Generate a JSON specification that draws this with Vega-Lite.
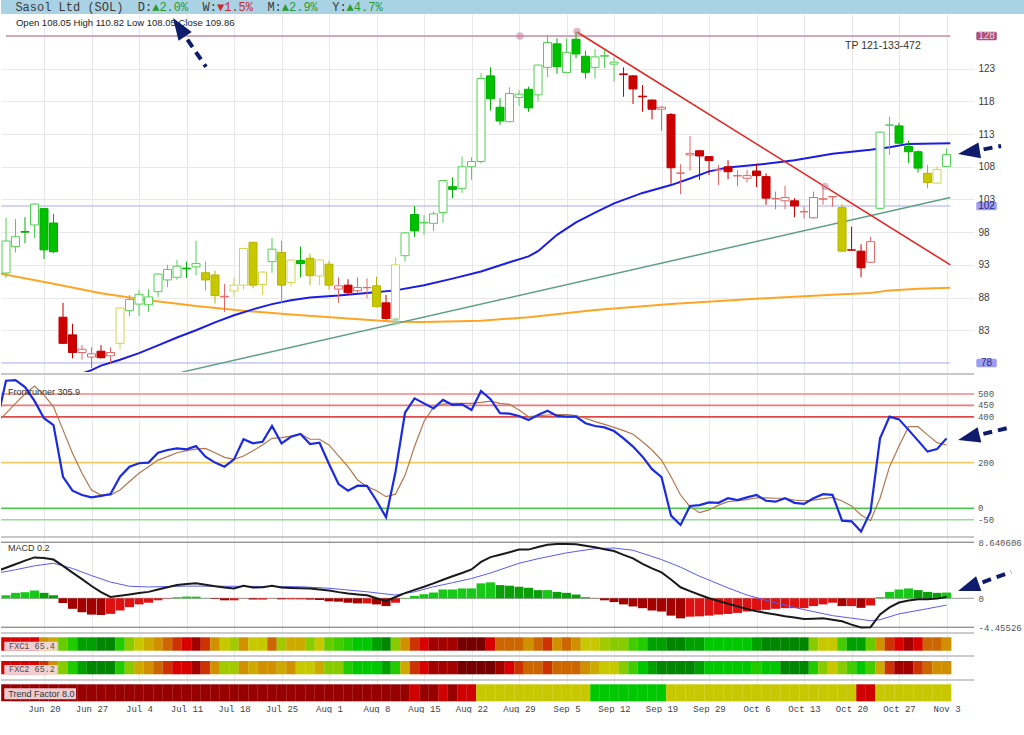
{
"$schema":"https://vega.github.io/schema/vega-lite/v6.json",
"padding":0,
"background":"white",
"spacing":0,
"bounds":"flush",
"resolve":{"scale":{"x":"independent","y":"independent","color":"independent","fill":"independent","stroke":"independent","strokeWidth":"independent"},"axis":{"x":"independent","y":"independent"}},
"config":{"view":{"stroke":null},"scale":{"continuousPadding":0},"axis":{"domain":false,"ticks":false,"labelFlush":false,"labelOverlap":false,"titleOpacity":0},"font":"Liberation Sans"},
"datasets":{
"d":[
{"i":0,"o":91.76,"h":100.2,"l":91.0,"c":96.65,"t":"g","m":0.47,"f1":86,"f2":86,"tf":0},
{"i":1,"o":95.8,"h":100.0,"l":94.9,"c":97.3,"t":"g","m":0.84,"f1":86,"f2":86,"tf":0},
{"i":2,"o":98.1,"h":100.3,"l":96.3,"c":98.0,"t":"g","m":0.94,"f1":86,"f2":86,"tf":0},
{"i":3,"o":99.1,"h":102.4,"l":97.1,"c":102.3,"t":"g","m":1.2,"f1":86,"f2":86,"tf":0},
{"i":4,"o":101.6,"h":101.7,"l":93.9,"c":95.3,"t":"g","m":0.84,"f1":65,"f2":79,"tf":0},
{"i":5,"o":99.4,"h":100.8,"l":94.8,"c":95.0,"t":"g","m":0.47,"f1":58,"f2":65,"tf":0},
{"i":6,"o":85.0,"h":87.2,"l":80.9,"c":81.0,"t":"r","m":-0.73,"f1":35,"f2":40,"tf":0},
{"i":7,"o":82.3,"h":84.0,"l":78.7,"c":79.6,"t":"r","m":-1.62,"f1":25,"f2":25,"tf":0},
{"i":8,"o":79.6,"h":80.75,"l":78.5,"c":80.1,"t":"r","m":-2.15,"f1":10,"f2":10,"tf":0},
{"i":9,"o":78.9,"h":80.4,"l":77.2,"c":79.4,"t":"r","m":-2.51,"f1":10,"f2":2,"tf":0},
{"i":10,"o":79.8,"h":80.75,"l":78.7,"c":78.8,"t":"r","m":-2.57,"f1":2,"f2":2,"tf":0},
{"i":11,"o":79.1,"h":80.4,"l":78.0,"c":79.6,"t":"r","m":-2.4,"f1":2,"f2":2,"tf":0},
{"i":12,"o":81.0,"h":86.5,"l":80.1,"c":86.4,"t":"y","m":-1.88,"f1":25,"f2":25,"tf":0},
{"i":13,"o":86.0,"h":88.4,"l":85.2,"c":87.7,"t":"g","m":-1.36,"f1":40,"f2":40,"tf":0},
{"i":14,"o":87.0,"h":89.2,"l":85.2,"c":88.5,"t":"g","m":-0.94,"f1":50,"f2":58,"tf":0},
{"i":15,"o":86.9,"h":89.3,"l":85.8,"c":88.1,"t":"g","m":-0.68,"f1":58,"f2":65,"tf":0},
{"i":16,"o":88.9,"h":91.7,"l":88.1,"c":91.6,"t":"g","m":-0.31,"f1":65,"f2":72,"tf":0},
{"i":17,"o":90.7,"h":93.0,"l":89.6,"c":92.3,"t":"g","m":-0.05,"f1":72,"f2":79,"tf":0},
{"i":18,"o":91.1,"h":93.75,"l":90.7,"c":92.8,"t":"g","m":0.16,"f1":79,"f2":86,"tf":0},
{"i":19,"o":92.5,"h":93.5,"l":91.0,"c":92.4,"t":"g","m":0.26,"f1":86,"f2":86,"tf":0},
{"i":20,"o":92.7,"h":96.7,"l":91.4,"c":93.2,"t":"g","m":0.26,"f1":93,"f2":93,"tf":0},
{"i":21,"o":91.8,"h":93.5,"l":89.1,"c":90.7,"t":"y","m":0.02,"f1":79,"f2":79,"tf":0},
{"i":22,"o":91.45,"h":92.1,"l":87.1,"c":88.3,"t":"y","m":-0.1,"f1":65,"f2":65,"tf":0},
{"i":23,"o":88.1,"h":90.1,"l":85.8,"c":88.2,"t":"r","m":-0.31,"f1":50,"f2":44,"tf":0},
{"i":24,"o":89.0,"h":91.0,"l":88.1,"c":89.9,"t":"y","m":-0.31,"f1":44,"f2":44,"tf":0},
{"i":25,"o":89.9,"h":95.6,"l":89.2,"c":95.5,"t":"y","m":-0.02,"f1":65,"f2":65,"tf":0},
{"i":26,"o":96.45,"h":96.5,"l":89.4,"c":89.9,"t":"y","m":-0.2,"f1":50,"f2":58,"tf":0},
{"i":27,"o":90.0,"h":92.0,"l":88.4,"c":91.9,"t":"y","m":-0.2,"f1":50,"f2":65,"tf":0},
{"i":28,"o":93.5,"h":97.1,"l":91.8,"c":95.4,"t":"g","m":-0.03,"f1":72,"f2":65,"tf":0},
{"i":29,"o":94.9,"h":96.7,"l":87.2,"c":89.9,"t":"y","m":-0.16,"f1":44,"f2":58,"tf":0},
{"i":30,"o":90.3,"h":93.8,"l":89.7,"c":93.75,"t":"y","m":-0.16,"f1":58,"f2":65,"tf":0},
{"i":31,"o":93.65,"h":95.8,"l":91.1,"c":93.2,"t":"g","m":-0.16,"f1":58,"f2":50,"tf":0},
{"i":32,"o":94.0,"h":94.7,"l":89.9,"c":91.35,"t":"y","m":-0.2,"f1":40,"f2":50,"tf":0},
{"i":33,"o":91.3,"h":93.8,"l":89.9,"c":93.75,"t":"y","m":-0.26,"f1":50,"f2":58,"tf":0},
{"i":34,"o":93.1,"h":93.65,"l":89.2,"c":89.9,"t":"y","m":-0.47,"f1":35,"f2":40,"tf":0},
{"i":35,"o":89.3,"h":91.1,"l":87.2,"c":89.8,"t":"r","m":-0.52,"f1":30,"f2":40,"tf":0},
{"i":36,"o":89.9,"h":90.8,"l":88.4,"c":88.75,"t":"r","m":-0.68,"f1":25,"f2":25,"tf":0},
{"i":37,"o":89.05,"h":91.1,"l":88.65,"c":89.55,"t":"r","m":-0.79,"f1":20,"f2":20,"tf":0},
{"i":38,"o":89.5,"h":90.95,"l":87.9,"c":89.55,"t":"r","m":-0.79,"f1":20,"f2":20,"tf":0},
{"i":39,"o":89.8,"h":91.2,"l":86.5,"c":86.6,"t":"y","m":-0.94,"f1":10,"f2":20,"tf":0},
{"i":40,"o":87.2,"h":88.4,"l":84.6,"c":84.8,"t":"r","m":-1.2,"f1":2,"f2":10,"tf":0},
{"i":41,"o":84.7,"h":94.2,"l":84.2,"c":93.0,"t":"y","m":-0.68,"f1":40,"f2":25,"tf":0},
{"i":42,"o":94.4,"h":98.0,"l":93.5,"c":97.9,"t":"g","m":0.05,"f1":65,"f2":58,"tf":0},
{"i":43,"o":100.7,"h":102.0,"l":97.3,"c":98.2,"t":"g","m":0.37,"f1":79,"f2":79,"tf":3},
{"i":44,"o":99.4,"h":100.6,"l":97.6,"c":99.5,"t":"g","m":0.63,"f1":86,"f2":86,"tf":0},
{"i":45,"o":99.35,"h":101.15,"l":98.2,"c":100.8,"t":"g","m":0.89,"f1":93,"f2":93,"tf":0},
{"i":46,"o":101.0,"h":106.0,"l":99.45,"c":105.9,"t":"g","m":1.36,"f1":93,"f2":93,"tf":3},
{"i":47,"o":104.95,"h":106.4,"l":103.2,"c":104.55,"t":"g","m":1.36,"f1":93,"f2":93,"tf":0},
{"i":48,"o":104.7,"h":109.55,"l":104.0,"c":108.0,"t":"g","m":1.52,"f1":100,"f2":100,"tf":3},
{"i":49,"o":108.0,"h":109.45,"l":106.0,"c":108.8,"t":"g","m":1.52,"f1":100,"f2":100,"tf":3},
{"i":50,"o":108.8,"h":122.3,"l":108.5,"c":121.5,"t":"g","m":2.3,"f1":100,"f2":100,"tf":8},
{"i":51,"o":121.9,"h":123.2,"l":116.6,"c":118.4,"t":"g","m":2.46,"f1":86,"f2":100,"tf":8},
{"i":52,"o":117.1,"h":118.5,"l":114.4,"c":115.0,"t":"g","m":2.04,"f1":72,"f2":93,"tf":8},
{"i":53,"o":114.9,"h":120.15,"l":114.8,"c":119.2,"t":"g","m":1.94,"f1":72,"f2":86,"tf":8},
{"i":54,"o":118.6,"h":119.7,"l":117.3,"c":119.1,"t":"g","m":1.78,"f1":72,"f2":79,"tf":8},
{"i":55,"o":119.85,"h":120.25,"l":116.4,"c":117.0,"t":"g","m":1.62,"f1":65,"f2":72,"tf":8},
{"i":56,"o":119.0,"h":123.6,"l":118.0,"c":123.55,"t":"g","m":1.26,"f1":72,"f2":72,"tf":8},
{"i":57,"o":123.2,"h":128.15,"l":121.7,"c":127.0,"t":"g","m":1.26,"f1":79,"f2":79,"tf":8},
{"i":58,"o":126.8,"h":127.65,"l":122.2,"c":123.3,"t":"g","m":0.99,"f1":65,"f2":72,"tf":8},
{"i":59,"o":122.4,"h":127.65,"l":122.3,"c":125.5,"t":"g","m":0.84,"f1":72,"f2":72,"tf":8},
{"i":60,"o":127.5,"h":128.6,"l":124.6,"c":125.25,"t":"g","m":0.58,"f1":65,"f2":72,"tf":8},
{"i":61,"o":124.9,"h":125.75,"l":121.5,"c":122.45,"t":"g","m":0.16,"f1":50,"f2":65,"tf":8},
{"i":62,"o":123.2,"h":126.0,"l":121.5,"c":124.8,"t":"g","m":-0.03,"f1":50,"f2":58,"tf":10},
{"i":63,"o":124.9,"h":125.9,"l":123.1,"c":125.0,"t":"g","m":-0.31,"f1":44,"f2":50,"tf":10},
{"i":64,"o":123.7,"h":124.75,"l":121.0,"c":124.0,"t":"g","m":-0.58,"f1":40,"f2":50,"tf":10},
{"i":65,"o":122.2,"h":123.2,"l":118.7,"c":122.1,"t":"r","m":-0.94,"f1":40,"f2":40,"tf":10},
{"i":66,"o":121.9,"h":122.0,"l":117.6,"c":119.9,"t":"r","m":-1.26,"f1":30,"f2":30,"tf":10},
{"i":67,"o":118.8,"h":120.5,"l":116.4,"c":118.7,"t":"r","m":-1.52,"f1":25,"f2":20,"tf":10},
{"i":68,"o":118.2,"h":118.3,"l":115.25,"c":116.8,"t":"r","m":-1.88,"f1":10,"f2":10,"tf":10},
{"i":69,"o":116.8,"h":117.3,"l":113.5,"c":117.1,"t":"r","m":-2.04,"f1":10,"f2":2,"tf":10},
{"i":70,"o":116.0,"h":116.2,"l":105.4,"c":107.85,"t":"r","m":-2.67,"f1":2,"f2":2,"tf":8},
{"i":71,"o":107.0,"h":108.4,"l":103.8,"c":107.05,"t":"r","m":-3.09,"f1":2,"f2":2,"tf":8},
{"i":72,"o":109.8,"h":112.7,"l":107.4,"c":110.05,"t":"r","m":-2.83,"f1":10,"f2":2,"tf":8},
{"i":73,"o":110.45,"h":110.5,"l":106.0,"c":109.65,"t":"r","m":-2.78,"f1":10,"f2":10,"tf":8},
{"i":74,"o":109.55,"h":109.6,"l":106.75,"c":108.95,"t":"r","m":-2.67,"f1":20,"f2":20,"tf":8},
{"i":75,"o":107.5,"h":108.3,"l":105.2,"c":107.6,"t":"r","m":-2.51,"f1":20,"f2":20,"tf":8},
{"i":76,"o":108.0,"h":109.0,"l":106.1,"c":107.25,"t":"r","m":-2.41,"f1":20,"f2":20,"tf":8},
{"i":77,"o":106.6,"h":107.5,"l":105.0,"c":106.65,"t":"r","m":-2.25,"f1":20,"f2":20,"tf":8},
{"i":78,"o":106.25,"h":107.5,"l":105.6,"c":106.65,"t":"r","m":-2.04,"f1":20,"f2":20,"tf":8},
{"i":79,"o":107.35,"h":108.5,"l":104.9,"c":106.65,"t":"r","m":-1.88,"f1":10,"f2":25,"tf":8},
{"i":80,"o":106.5,"h":107.0,"l":102.2,"c":103.2,"t":"r","m":-1.78,"f1":2,"f2":20,"tf":8},
{"i":81,"o":103.1,"h":104.2,"l":101.5,"c":103.15,"t":"r","m":-1.62,"f1":2,"f2":20,"tf":8},
{"i":82,"o":102.8,"h":105.1,"l":101.5,"c":103.3,"t":"r","m":-1.52,"f1":2,"f2":2,"tf":8},
{"i":83,"o":102.8,"h":103.2,"l":100.3,"c":102.0,"t":"r","m":-1.52,"f1":2,"f2":2,"tf":8},
{"i":84,"o":101.1,"h":101.9,"l":100.1,"c":101.15,"t":"r","m":-1.52,"f1":2,"f2":2,"tf":8},
{"i":85,"o":100.2,"h":104.2,"l":100.1,"c":103.3,"t":"r","m":-1.2,"f1":40,"f2":25,"tf":8},
{"i":86,"o":103.05,"h":105.2,"l":102.2,"c":103.1,"t":"r","m":-0.94,"f1":50,"f2":40,"tf":8},
{"i":87,"o":103.4,"h":103.5,"l":101.9,"c":103.45,"t":"r","m":-0.68,"f1":50,"f2":50,"tf":8},
{"i":88,"o":101.75,"h":102.3,"l":95.0,"c":95.1,"t":"y","m":-1.2,"f1":30,"f2":40,"tf":8},
{"i":89,"o":95.3,"h":98.85,"l":95.2,"c":95.25,"t":"r","m":-1.2,"f1":10,"f2":30,"tf":8},
{"i":90,"o":95.1,"h":96.15,"l":91.1,"c":92.55,"t":"r","m":-1.47,"f1":10,"f2":20,"tf":3},
{"i":91,"o":93.4,"h":97.3,"l":93.3,"c":96.55,"t":"r","m":-1.1,"f1":35,"f2":30,"tf":3},
{"i":92,"o":101.65,"h":113.4,"l":101.4,"c":113.3,"t":"g","m":0.16,"f1":65,"f2":58,"tf":8},
{"i":93,"o":114.35,"h":115.65,"l":109.8,"c":114.4,"t":"g","m":0.99,"f1":79,"f2":79,"tf":8},
{"i":94,"o":114.25,"h":114.75,"l":111.5,"c":111.6,"t":"g","m":1.36,"f1":86,"f2":93,"tf":8},
{"i":95,"o":111.1,"h":112.0,"l":108.6,"c":110.3,"t":"g","m":1.52,"f1":93,"f2":93,"tf":8},
{"i":96,"o":110.3,"h":110.5,"l":107.1,"c":107.8,"t":"g","m":1.26,"f1":86,"f2":79,"tf":8},
{"i":97,"o":107.0,"h":108.3,"l":104.7,"c":105.6,"t":"y","m":0.99,"f1":72,"f2":72,"tf":8},
{"i":98,"o":105.5,"h":108.1,"l":105.4,"c":107.6,"t":"y","m":0.84,"f1":72,"f2":65,"tf":8},
{"i":99,"o":108.05,"h":110.82,"l":108.05,"c":109.86,"t":"g","m":0.89,"f1":65.4,"f2":65.2,"tf":8}
],
"fr":[
{"i":-1,"a":371,"b":375},{"i":0,"a":558,"b":415},{"i":1,"a":561,"b":459},{"i":2,"a":530,"b":500},{"i":3,"a":470,"b":535},{"i":4,"a":394,"b":496},{"i":5,"a":364,"b":444},{"i":6,"a":138,"b":343},{"i":7,"a":77,"b":241},{"i":8,"a":58,"b":153},{"i":9,"a":48,"b":80},{"i":10,"a":54,"b":58},{"i":11,"a":62,"b":58},{"i":12,"a":138,"b":80},{"i":13,"a":182,"b":117},{"i":14,"a":197,"b":153},{"i":15,"a":200,"b":182},{"i":16,"a":243,"b":211},{"i":17,"a":255,"b":226},{"i":18,"a":262,"b":243},{"i":19,"a":258,"b":252},{"i":20,"a":272,"b":259},{"i":21,"a":226,"b":262},{"i":22,"a":200,"b":243},{"i":23,"a":182,"b":223},{"i":24,"a":214,"b":214},{"i":25,"a":302,"b":229},{"i":26,"a":284,"b":252},{"i":27,"a":291,"b":277},{"i":28,"a":360,"b":306},{"i":29,"a":284,"b":309},{"i":30,"a":313,"b":316},{"i":31,"a":325,"b":325},{"i":32,"a":281,"b":302},{"i":33,"a":287,"b":302},{"i":34,"a":194,"b":277},{"i":35,"a":106,"b":229},{"i":36,"a":77,"b":182},{"i":37,"a":99,"b":124},{"i":38,"a":98,"b":95},{"i":39,"a":33,"b":77},{"i":40,"a":-39,"b":51},{"i":41,"a":160,"b":62},{"i":42,"a":418,"b":144},{"i":43,"a":481,"b":270},{"i":44,"a":459,"b":380},{"i":45,"a":437,"b":442},{"i":46,"a":474,"b":456},{"i":47,"a":452,"b":459},{"i":48,"a":455,"b":459},{"i":49,"a":430,"b":459},{"i":50,"a":513,"b":463},{"i":51,"a":477,"b":469},{"i":52,"a":416,"b":459},{"i":53,"a":414,"b":455},{"i":54,"a":404,"b":430},{"i":55,"a":386,"b":401},{"i":56,"a":408,"b":404},{"i":57,"a":427,"b":408},{"i":58,"a":404,"b":410},{"i":59,"a":401,"b":410},{"i":60,"a":401,"b":405},{"i":61,"a":372,"b":394},{"i":62,"a":360,"b":379},{"i":63,"a":354,"b":367},{"i":64,"a":338,"b":354},{"i":65,"a":306,"b":340},{"i":66,"a":270,"b":324},{"i":67,"a":226,"b":291},{"i":68,"a":171,"b":255},{"i":69,"a":136,"b":211},{"i":70,"a":-32,"b":138},{"i":71,"a":-73,"b":58},{"i":72,"a":10,"b":7},{"i":73,"a":14,"b":-19},{"i":74,"a":26,"b":-7},{"i":75,"a":24,"b":14},{"i":76,"a":44,"b":29},{"i":77,"a":36,"b":33},{"i":78,"a":48,"b":38},{"i":79,"a":58,"b":46},{"i":80,"a":33,"b":46},{"i":81,"a":29,"b":44},{"i":82,"a":44,"b":44},{"i":83,"a":24,"b":36},{"i":84,"a":19,"b":33},{"i":85,"a":44,"b":36},{"i":86,"a":62,"b":42},{"i":87,"a":59,"b":48},{"i":88,"a":-54,"b":32},{"i":89,"a":-57,"b":10},{"i":90,"a":-102,"b":-29},{"i":91,"a":-15,"b":-54},{"i":92,"a":306,"b":44},{"i":93,"a":401,"b":182},{"i":94,"a":389,"b":272},{"i":95,"a":343,"b":357},{"i":96,"a":296,"b":357},{"i":97,"a":248,"b":321},{"i":98,"a":259,"b":287},{"i":99,"a":305.9,"b":277}
],
"mk":[
{"i":-1,"v":4.15},{"i":0,"v":4.7},{"i":1,"v":5.25},{"i":2,"v":5.8},{"i":3,"v":6.3},{"i":4,"v":6.2},{"i":5,"v":5.97},{"i":6,"v":5.0},{"i":7,"v":3.95},{"i":8,"v":2.95},{"i":9,"v":1.9},{"i":10,"v":0.95},{"i":11,"v":0.2},{"i":12,"v":0.4},{"i":13,"v":0.6},{"i":14,"v":0.8},{"i":15,"v":0.99},{"i":16,"v":1.35},{"i":17,"v":1.7},{"i":18,"v":2.04},{"i":19,"v":2.2},{"i":20,"v":2.3},{"i":21,"v":2.1},{"i":22,"v":1.85},{"i":23,"v":1.65},{"i":24,"v":1.5},{"i":25,"v":1.94},{"i":26,"v":1.65},{"i":27,"v":1.7},{"i":28,"v":1.94},{"i":29,"v":1.65},{"i":30,"v":1.6},{"i":31,"v":1.55},{"i":32,"v":1.52},{"i":33,"v":1.35},{"i":34,"v":1.2},{"i":35,"v":0.95},{"i":36,"v":0.75},{"i":37,"v":0.6},{"i":38,"v":0.47},{"i":39,"v":0.0},{"i":40,"v":-0.45},{"i":41,"v":0.2},{"i":42,"v":0.8},{"i":43,"v":1.3},{"i":44,"v":1.78},{"i":45,"v":2.3},{"i":46,"v":2.85},{"i":47,"v":3.4},{"i":48,"v":3.9},{"i":49,"v":4.45},{"i":50,"v":5.6},{"i":51,"v":6.35},{"i":52,"v":6.72},{"i":53,"v":7.1},{"i":54,"v":7.5},{"i":55,"v":7.5},{"i":56,"v":7.9},{"i":57,"v":8.25},{"i":58,"v":8.35},{"i":59,"v":8.35},{"i":60,"v":8.33},{"i":61,"v":8.1},{"i":62,"v":7.85},{"i":63,"v":7.55},{"i":64,"v":7.28},{"i":65,"v":6.7},{"i":66,"v":6.15},{"i":67,"v":5.3},{"i":68,"v":4.6},{"i":69,"v":4.0},{"i":70,"v":2.9},{"i":71,"v":1.7},{"i":72,"v":1.1},{"i":73,"v":0.55},{"i":74,"v":0.0},{"i":75,"v":-0.42},{"i":76,"v":-0.84},{"i":77,"v":-1.25},{"i":78,"v":-1.65},{"i":79,"v":-2.0},{"i":80,"v":-2.25},{"i":81,"v":-2.5},{"i":82,"v":-2.75},{"i":83,"v":-2.95},{"i":84,"v":-3.19},{"i":85,"v":-3.15},{"i":86,"v":-3.08},{"i":87,"v":-3.3},{"i":88,"v":-3.55},{"i":89,"v":-4.05},{"i":90,"v":-4.5},{"i":91,"v":-4.45},{"i":92,"v":-2.5},{"i":93,"v":-1.4},{"i":94,"v":-0.65},{"i":95,"v":-0.35},{"i":96,"v":-0.16},{"i":97,"v":-0.16},{"i":98,"v":-0.05},{"i":99,"v":0.2}
],
"ms":[
{"i":-1,"v":3.85},{"i":1,"v":4.4},{"i":3,"v":5.0},{"i":5,"v":5.4},{"i":7,"v":4.6},{"i":9,"v":3.5},{"i":11,"v":2.5},{"i":13,"v":1.85},{"i":15,"v":1.75},{"i":19,"v":1.88},{"i":24,"v":1.85},{"i":31,"v":1.78},{"i":34,"v":1.55},{"i":38,"v":1.0},{"i":41,"v":0.5},{"i":43,"v":1.0},{"i":45,"v":1.78},{"i":47,"v":2.4},{"i":49,"v":3.05},{"i":51,"v":3.9},{"i":52,"v":4.4},{"i":54,"v":5.4},{"i":56,"v":6.1},{"i":59,"v":7.0},{"i":62,"v":7.65},{"i":64,"v":7.75},{"i":66,"v":7.4},{"i":69,"v":5.97},{"i":71,"v":4.8},{"i":73,"v":3.4},{"i":76,"v":1.6},{"i":78,"v":0.5},{"i":81,"v":-0.7},{"i":84,"v":-1.75},{"i":87,"v":-2.67},{"i":90,"v":-3.25},{"i":91,"v":-3.46},{"i":92,"v":-3.3},{"i":94,"v":-2.4},{"i":97,"v":-1.6},{"i":99,"v":-1.05}
],
"ma1":[
{"i":7,"v":75.9},{"i":9,"v":76.9},{"i":10,"v":77.6},{"i":12,"v":78.5},{"i":14,"v":79.5},{"i":16,"v":80.7},{"i":18,"v":81.9},{"i":20,"v":83.0},{"i":22,"v":84.2},{"i":24,"v":85.3},{"i":26,"v":86.2},{"i":28,"v":87.0},{"i":30,"v":87.6},{"i":32,"v":88.0},{"i":35,"v":88.3},{"i":38,"v":88.7},{"i":41,"v":89.1},{"i":44,"v":89.9},{"i":47,"v":90.9},{"i":50,"v":92.0},{"i":53,"v":93.4},{"i":55,"v":94.3},{"i":56,"v":95.1},{"i":58,"v":97.6},{"i":60,"v":99.5},{"i":62,"v":101.0},{"i":64,"v":102.4},{"i":67,"v":104.0},{"i":70,"v":105.2},{"i":72,"v":106.2},{"i":74,"v":107.3},{"i":76,"v":107.9},{"i":79,"v":108.3},{"i":83,"v":109.0},{"i":87,"v":110.0},{"i":91,"v":110.6},{"i":93,"v":111.0},{"i":95,"v":111.5},{"i":99.4,"v":111.6}
],
"ma2":[
{"i":-0.53,"v":91.65},{"i":5,"v":90.1},{"i":10,"v":88.65},{"i":15,"v":87.6},{"i":20,"v":86.7},{"i":25,"v":86.0},{"i":30,"v":85.4},{"i":36,"v":84.8},{"i":41,"v":84.3},{"i":44,"v":84.25},{"i":50,"v":84.45},{"i":55,"v":85.0},{"i":62,"v":86.1},{"i":70,"v":87.0},{"i":80,"v":87.9},{"i":88,"v":88.5},{"i":91,"v":88.7},{"i":93,"v":89.1},{"i":96,"v":89.35},{"i":99.4,"v":89.5}
]
},
"vconcat":[
{
"width":1024,"height":14,
"view":{"fill":"#a9d3e5","stroke":null},
"data":{"values":[
{"col":2,"t":"Sasol Ltd (SOL)","k":"label"},
{"col":19,"t":"D:","k":"label"},
{"col":21,"t":"▲2.0%","k":"up"},
{"col":28,"t":"W:","k":"label"},
{"col":30,"t":"▼1.5%","k":"down"},
{"col":37,"t":"M:","k":"label"},
{"col":39,"t":"▲2.9%","k":"up"},
{"col":46,"t":"Y:","k":"label"},
{"col":48,"t":"▲4.7%","k":"up"}
]},
"mark":{"type":"text","align":"left","baseline":"middle","font":"Liberation Mono","fontSize":12},
"encoding":{
"x":{"field":"col","type":"quantitative","scale":{"domain":[0,142.22],"nice":false,"zero":false},"axis":null},
"y":{"datum":0.5,"scale":{"domain":[0,1]},"axis":null},
"text":{"field":"t"},
"color":{"field":"k","type":"nominal","scale":{"domain":["label","up","down"],"range":["#3b3b3b","#2d9a2d","#c82828"]},"legend":null}
}
},
{
"width":973,"height":358,
"layer":[
{"data":{"values":[{"p":128}]},"mark":{"type":"rule","color":"#c48ca2","strokeWidth":1.5},
 "encoding":{"x":{"datum":0,"title":null},"x2":{"datum":99.4},"y":{"field":"p","type":"quantitative","title":null}}},
{"data":{"values":[{"p":102},{"p":78}]},"mark":{"type":"rule","color":"#a9a9f2","strokeWidth":1},
 "encoding":{"x":{"datum":-0.5,"title":null},"x2":{"datum":99.4},"y":{"field":"p","type":"quantitative","title":null}}},
{"data":{"name":"ma2"},"mark":{"type":"line","color":"#ffa526","strokeWidth":2,"clip":true},
 "encoding":{"x":{"field":"i","type":"quantitative","title":null},"y":{"field":"v","type":"quantitative","title":null}}},
{"data":{"name":"ma1"},"mark":{"type":"line","color":"#1c1ce6","strokeWidth":2,"clip":true},
 "encoding":{"x":{"field":"i","type":"quantitative","title":null},"y":{"field":"v","type":"quantitative","title":null}}},
{"data":{"values":[{"i":18.5,"v":76.6},{"i":99.4,"v":103.3}]},"mark":{"type":"line","color":"#5f9f84","strokeWidth":1.5,"clip":true},
 "encoding":{"x":{"field":"i","type":"quantitative","title":null},"y":{"field":"v","type":"quantitative","title":null}}},
{"data":{"values":[{"i":60.1,"v":128.6},{"i":99.4,"v":93.0}]},"mark":{"type":"line","color":"#e32626","strokeWidth":1.6,"clip":true},
 "encoding":{"x":{"field":"i","type":"quantitative","title":null},"y":{"field":"v","type":"quantitative","title":null}}},
{"data":{"name":"d"},
 "transform":[{"calculate":"datum.t + (datum.c > datum.o ? 'u' : 'd')","as":"k"}],
 "mark":{"type":"rule","strokeWidth":1},
 "encoding":{
  "x":{"field":"i","type":"quantitative","title":null,"scale":{"domain":[-0.5263,101.89],"nice":false,"zero":false,"padding":0},
       "axis":{"values":[4,9,14,19,24,29,34,39,44,49,54,59,64,69,74,79,84,89,94,99],"labels":false,"grid":true,"gridColor":"#e8e8e8","title":null}},
  "y":{"field":"l","type":"quantitative","title":null,"scale":{"domain":[76.62,131.36],"nice":false,"zero":false,"padding":0},
       "axis":{"orient":"right","values":[83,88,93,98,103,108,113,118,123],"grid":true,"gridColor":"#e8e8e8","labelFont":"Liberation Sans","labelFontSize":10,"labelColor":"#3a3a3a","labelPadding":4,"labelOverlap":false,"title":null}},
  "y2":{"field":"h"},
  "stroke":{"field":"k","type":"nominal","scale":{"domain":["gu","gd","ru","rd","yu","yd"],"range":["#55cf55","#00b000","#e06868","#c40000","#d4d450","#b4b400"]},"legend":null}
 }},
{"data":{"name":"d"},
 "transform":[{"calculate":"datum.t + (datum.c > datum.o ? 'u' : 'd')","as":"k"}],
 "mark":{"type":"bar","size":8,"strokeWidth":1},
 "encoding":{
  "x":{"field":"i","type":"quantitative","title":null},
  "y":{"field":"o","type":"quantitative","title":null},
  "y2":{"field":"c"},
  "fill":{"field":"k","type":"nominal","scale":{"domain":["gu","gd","ru","rd","yu","yd"],"range":["#ffffff","#00c000","#ffffff","#cc0000","#ffffff","#c8c800"]},"legend":null},
  "stroke":{"field":"k","type":"nominal","legend":null}
 }},
{"data":{"values":[{"i":54.1,"p":128},{"i":60.1,"p":128.7},{"i":86.2,"p":105.0}]},
 "mark":{"type":"point","filled":true,"color":"#c77d95","opacity":0.55,"size":55},
 "encoding":{"x":{"field":"i","type":"quantitative","title":null},"y":{"field":"p","type":"quantitative","title":null}}},
{"data":{"values":[{"i":41.05,"p":84.35}]},
 "mark":{"type":"point","filled":true,"color":"#9fcfb3","opacity":0.6,"size":55},
 "encoding":{"x":{"field":"i","type":"quantitative","title":null},"y":{"field":"p","type":"quantitative","title":null}}},
{"data":{"values":[{}]},
 "mark":{"type":"text","align":"left","baseline":"middle","fontSize":9.5,"color":"#222222","font":"Liberation Sans"},
 "encoding":{"x":{"datum":1.05,"title":null},"y":{"datum":129.99,"title":null},"text":{"value":"Open 108.05 High 110.82 Low 108.05 Close 109.86"}}},
{"data":{"values":[{}]},
 "mark":{"type":"text","align":"center","baseline":"middle","fontSize":10.5,"color":"#333333","font":"Liberation Sans"},
 "encoding":{"x":{"datum":92.3,"title":null},"y":{"datum":126.47,"title":null},"text":{"value":"TP 121-133-472"}}},
{"data":{"values":[{"p":128}]},
 "mark":{"type":"point","shape":"M-0.85,-0.42L0.85,-0.42Q1,-0.42 1,-0.27L1,0.27Q1,0.42 0.85,0.42L-0.85,0.42Q-1,0.42 -1,0.27L-1,-0.27Q-1,-0.42 -0.85,-0.42Z","size":420,"filled":true,"color":"#ad4f7c","opacity":1},
 "encoding":{"x":{"datum":103.21,"title":null},"y":{"field":"p","type":"quantitative","title":null}}},
{"data":{"values":[{"p":102},{"p":78}]},
 "mark":{"type":"point","shape":"M-0.85,-0.42L0.85,-0.42Q1,-0.42 1,-0.27L1,0.27Q1,0.42 0.85,0.42L-0.85,0.42Q-1,0.42 -1,0.27L-1,-0.27Q-1,-0.42 -0.85,-0.42Z","size":420,"filled":true,"color":"#9d9df2","opacity":1},
 "encoding":{"x":{"datum":103.21,"title":null},"y":{"field":"p","type":"quantitative","title":null}}},
{"data":{"values":[{"p":128}]},
 "mark":{"type":"text","align":"center","baseline":"middle","fontSize":10,"color":"#f2d0e0","font":"Liberation Sans"},
 "encoding":{"x":{"datum":103.21,"title":null},"y":{"field":"p","type":"quantitative","title":null},"text":{"field":"p","type":"quantitative"}}},
{"data":{"values":[{"p":102},{"p":78}]},
 "mark":{"type":"text","align":"center","baseline":"middle","fontSize":10,"color":"#2a2a78","font":"Liberation Sans"},
 "encoding":{"x":{"datum":103.21,"title":null},"y":{"field":"p","type":"quantitative","title":null},"text":{"field":"p","type":"quantitative"}}},
{"data":{"values":[{"a":1,"i":21.05,"p":123.26},{"a":1,"i":18.22,"p":129.35},{"a":2,"i":104.74,"p":111.18},{"a":2,"i":101.35,"p":110.23}]},
 "mark":{"type":"line","color":"#0f1c6b","strokeWidth":4,"strokeDash":[9,6]},
 "encoding":{"x":{"field":"i","type":"quantitative","title":null},"y":{"field":"p","type":"quantitative","title":null},"detail":{"field":"a"}}},
{"data":{"values":[{"i":18.22,"p":129.35}]},
 "mark":{"type":"point","shape":"M0,-1L0.72,1L-0.72,1Z","size":484,"filled":true,"color":"#0f1c6b","opacity":1,"angle":326.6},
 "encoding":{"x":{"field":"i","type":"quantitative","title":null},"y":{"field":"p","type":"quantitative","title":null}}},
{"data":{"values":[{"i":101.35,"p":110.23}]},
 "mark":{"type":"point","shape":"M0,-1L0.72,1L-0.72,1Z","size":484,"filled":true,"color":"#0f1c6b","opacity":1,"angle":260.8},
 "encoding":{"x":{"field":"i","type":"quantitative","title":null},"y":{"field":"p","type":"quantitative","title":null}}}
]
},
{
"width":973,"height":167,
"layer":[
{"data":{"values":[{"v":500},{"v":450},{"v":400},{"v":200},{"v":0},{"v":-50}]},
 "mark":{"type":"rule"},
 "encoding":{
  "y":{"field":"v","type":"quantitative","title":null,"scale":{"domain":[-134.3,596.2],"nice":false,"zero":false,"padding":0},
       "axis":{"orient":"right","values":[500,450,400,200,0,-50],"grid":false,"labels":false,"title":null}},
  "color":{"field":"v","type":"ordinal","scale":{"domain":[500,450,400,200,0,-50],"range":["#f5a3a3","#f07878","#e04848","#f0cc66","#44cc44","#8fe08f"]},"legend":null},
  "strokeWidth":{"field":"v","type":"ordinal","scale":{"domain":[500,450,400,200,0,-50],"range":[2,1.5,1.2,1.5,1.2,2]},"legend":null}
 }},
{"data":{"values":[{"v":500},{"v":450},{"v":400},{"v":200},{"v":0},{"v":-50}]},
 "mark":{"type":"text","align":"left","baseline":"middle","font":"Liberation Mono","fontSize":9,"color":"#555555"},
 "encoding":{"x":{"datum":102.3,"title":null},"y":{"field":"v","type":"quantitative","title":null},"text":{"field":"v","type":"nominal"}}},
{"data":{"values":[{"v":587.5},{"v":-125.5}]},
 "mark":{"type":"rule","color":"#c8c8c8","strokeWidth":2},
 "encoding":{"y":{"field":"v","type":"quantitative","title":null}}},
{"data":{"name":"fr"},"mark":{"type":"line","color":"#b0784f","strokeWidth":1.2,"clip":true},
 "encoding":{
  "x":{"field":"i","type":"quantitative","title":null,"scale":{"domain":[-0.5263,101.89],"nice":false,"zero":false,"padding":0},
       "axis":{"values":[4,9,14,19,24,29,34,39,44,49,54,59,64,69,74,79,84,89,94,99],"labels":false,"grid":true,"gridColor":"#e8e8e8","title":null}},
  "y":{"field":"b","type":"quantitative","title":null}}},
{"data":{"name":"fr"},"mark":{"type":"line","color":"#1b2be0","strokeWidth":2.2,"clip":true},
 "encoding":{"x":{"field":"i","type":"quantitative","title":null},"y":{"field":"a","type":"quantitative","title":null}}},
{"data":{"values":[{}]},
 "mark":{"type":"text","align":"left","baseline":"middle","fontSize":9,"color":"#333333","font":"Liberation Sans"},
 "encoding":{"x":{"datum":0.21,"title":null},"y":{"datum":508.7,"title":null},"text":{"value":"Frontrunner 305.9"}}},
{"data":{"values":[{"i":105.47,"v":351.3},{"i":101.34,"v":310}]},
 "mark":{"type":"line","color":"#0f1c6b","strokeWidth":4,"strokeDash":[9,6]},
 "encoding":{"x":{"field":"i","type":"quantitative","title":null},"y":{"field":"v","type":"quantitative","title":null}}},
{"data":{"values":[{"i":101.34,"v":310}]},
 "mark":{"type":"point","shape":"M0,-1L0.72,1L-0.72,1Z","size":484,"filled":true,"color":"#0f1c6b","opacity":1,"angle":256.5},
 "encoding":{"x":{"field":"i","type":"quantitative","title":null},"y":{"field":"v","type":"quantitative","title":null}}}
]
},
{
"width":973,"height":94,
"layer":[
{"data":{"values":[{"v":8.640606},{"v":-4.45526}]},
 "mark":{"type":"rule","color":"#6b6b6b","strokeWidth":1},
 "encoding":{
  "y":{"field":"v","type":"quantitative","title":null,"scale":{"domain":[-5.347,9.137],"nice":false,"zero":false,"padding":0},
       "axis":{"orient":"right","values":[8.640606,0,-4.45526],"grid":false,"labelExpr":"'' + datum.value","labelFont":"Liberation Mono","labelFontSize":9,"labelColor":"#555555","labelPadding":4,"labelOverlap":false,"title":null}}
 }},
{"data":{"values":[{"v":0}]},
 "mark":{"type":"rule","color":"#9a9a9a","strokeWidth":1},
 "encoding":{"y":{"field":"v","type":"quantitative","title":null}}},
{"data":{"name":"d"},
 "transform":[
  {"window":[{"op":"lag","field":"m","as":"pm"}],"sort":[{"field":"i","order":"ascending"}]},
  {"calculate":"datum.m >= 0 ? ((datum.pm == null || datum.m >= datum.pm) ? 'gu' : 'gd') : (datum.m < datum.pm ? 'rd' : 'ru')","as":"hk"}
 ],
 "mark":{"type":"bar","size":9},
 "encoding":{
  "x":{"field":"i","type":"quantitative","title":null,"scale":{"domain":[-0.5263,101.89],"nice":false,"zero":false,"padding":0},
       "axis":{"values":[4,9,14,19,24,29,34,39,44,49,54,59,64,69,74,79,84,89,94,99],"labels":false,"grid":true,"gridColor":"#e8e8e8","title":null}},
  "y":{"field":"m","type":"quantitative","title":null},
  "y2":{"datum":0},
  "color":{"field":"hk","type":"nominal","scale":{"domain":["gu","gd","ru","rd"],"range":["#18c818","#0a9e0a","#dd1111","#a30000"]},"legend":null}
 }},
{"data":{"name":"ms"},"mark":{"type":"line","color":"#5b5bef","strokeWidth":1,"clip":true},
 "encoding":{"x":{"field":"i","type":"quantitative","title":null},"y":{"field":"v","type":"quantitative","title":null}}},
{"data":{"name":"mk"},"mark":{"type":"line","color":"#1a1a1a","strokeWidth":2,"clip":true},
 "encoding":{"x":{"field":"i","type":"quantitative","title":null},"y":{"field":"v","type":"quantitative","title":null}}},
{"data":{"values":[{}]},
 "mark":{"type":"text","align":"left","baseline":"middle","fontSize":9,"color":"#333333","font":"Liberation Sans"},
 "encoding":{"x":{"datum":0.21,"title":null},"y":{"datum":7.75,"title":null},"text":{"value":"MACD 0.2"}}},
{"data":{"values":[{"i":105.79,"v":4.05},{"i":101.3,"v":1.69}]},
 "mark":{"type":"line","color":"#0f1c6b","strokeWidth":4,"strokeDash":[9,6]},
 "encoding":{"x":{"field":"i","type":"quantitative","title":null},"y":{"field":"v","type":"quantitative","title":null}}},
{"data":{"values":[{"i":101.3,"v":1.69}]},
 "mark":{"type":"point","shape":"M0,-1L0.72,1L-0.72,1Z","size":484,"filled":true,"color":"#0f1c6b","opacity":1,"angle":250.3},
 "encoding":{"x":{"field":"i","type":"quantitative","title":null},"y":{"field":"v","type":"quantitative","title":null}}}
]
},
{
"width":973,"height":23,
"layer":[
{"data":{"values":[{}]},"mark":{"type":"rule","color":"#cccccc","strokeWidth":2},
 "encoding":{"y":{"datum":1,"scale":{"domain":[0,1],"nice":false,"zero":false,"padding":0},"axis":null,"title":null}}},
{"data":{"name":"d"},"mark":{"type":"bar","size":9.6},
 "encoding":{
  "x":{"field":"i","type":"quantitative","title":null,"scale":{"domain":[-0.5263,101.89],"nice":false,"zero":false,"padding":0},
       "axis":{"values":[4,9,14,19,24,29,34,39,44,49,54,59,64,69,74,79,84,89,94,99],"labels":false,"grid":true,"gridColor":"#e8e8e8","title":null}},
  "y":{"datum":0.813,"axis":null,"title":null},"y2":{"datum":0.23},
  "color":{"field":"f1","type":"quantitative","scale":{"domain":[0,10,20,30,40,50,58,65,72,79,86,93,100],"range":["#007f00","#00a000","#00c800","#44cc00","#88cc00","#c8c800","#ccaa00","#d09000","#cc6600","#cc3300","#d80000","#a30000","#760000"],"interpolate":"rgb"},"legend":null}
 }},
{"data":{"values":[{}]},"mark":{"type":"rect","color":"#f4dde3","opacity":0.92},
 "encoding":{"x":{"datum":-0.18,"title":null},"x2":{"datum":5.44},"y":{"datum":0.62,"axis":null,"title":null},"y2":{"datum":0.23}}},
{"data":{"values":[{}]},"mark":{"type":"text","align":"left","baseline":"middle","font":"Liberation Mono","fontSize":8.5,"color":"#505050"},
 "encoding":{"x":{"datum":0.32,"title":null},"y":{"datum":0.435,"axis":null,"title":null},"text":{"value":"FXC1 65.4"}}}
]
},
{
"width":973,"height":24,
"layer":[
{"data":{"values":[{}]},"mark":{"type":"rule","color":"#cccccc","strokeWidth":2},
 "encoding":{"y":{"datum":1,"scale":{"domain":[0,1],"nice":false,"zero":false,"padding":0},"axis":null,"title":null}}},
{"data":{"name":"d"},"mark":{"type":"bar","size":9.6},
 "encoding":{
  "x":{"field":"i","type":"quantitative","title":null,"scale":{"domain":[-0.5263,101.89],"nice":false,"zero":false,"padding":0},
       "axis":{"values":[4,9,14,19,24,29,34,39,44,49,54,59,64,69,74,79,84,89,94,99],"labels":false,"grid":true,"gridColor":"#e8e8e8","title":null}},
  "y":{"datum":0.792,"axis":null,"title":null},"y2":{"datum":0.2375},
  "color":{"field":"f2","type":"quantitative","scale":{"domain":[0,10,20,30,40,50,58,65,72,79,86,93,100],"range":["#007f00","#00a000","#00c800","#44cc00","#88cc00","#c8c800","#ccaa00","#d09000","#cc6600","#cc3300","#d80000","#a30000","#760000"],"interpolate":"rgb"},"legend":null}
 }},
{"data":{"values":[{}]},"mark":{"type":"rect","color":"#f4dde3","opacity":0.92},
 "encoding":{"x":{"datum":-0.18,"title":null},"x2":{"datum":5.44},"y":{"datum":0.625,"axis":null,"title":null},"y2":{"datum":0.2375}}},
{"data":{"values":[{}]},"mark":{"type":"text","align":"left","baseline":"middle","font":"Liberation Mono","fontSize":8.5,"color":"#505050"},
 "encoding":{"x":{"datum":0.32,"title":null},"y":{"datum":0.44,"axis":null,"title":null},"text":{"value":"FXC2 65.2"}}}
]
},
{
"width":973,"height":22,
"layer":[
{"data":{"values":[{}]},"mark":{"type":"rule","color":"#cccccc","strokeWidth":2},
 "encoding":{"y":{"datum":1,"scale":{"domain":[0,1],"nice":false,"zero":false,"padding":0},"axis":null,"title":null}}},
{"data":{"name":"d"},"mark":{"type":"bar","size":9.6},
 "encoding":{
  "x":{"field":"i","type":"quantitative","title":null,"scale":{"domain":[-0.5263,101.89],"nice":false,"zero":false,"padding":0},
       "axis":{"values":[4,9,14,19,24,29,34,39,44,49,54,59,64,69,74,79,84,89,94,99],"labels":true,"grid":true,"gridColor":"#e8e8e8","labelFont":"Liberation Mono","labelFontSize":9,"labelColor":"#444444","labelPadding":2,"title":null,
       "labelExpr":"['Jun 20','Jun 27','Jul 4','Jul 11','Jul 18','Jul 25','Aug 1','Aug 8','Aug 15','Aug 22','Aug 29','Sep 5','Sep 12','Sep 19','Sep 29','Oct 6','Oct 13','Oct 20','Oct 27','Nov 3'][round((datum.value-4)/5)]"}},
  "y":{"datum":0.805,"axis":null,"title":null},"y2":{"datum":0.03},
  "color":{"field":"tf","type":"ordinal","scale":{"domain":[0,3,8,10],"range":["#970000","#cf0000","#c8c800","#00c800"]},"legend":null}
 }},
{"data":{"values":[{}]},"mark":{"type":"rect","color":"#f4dde3","opacity":0.92},
 "encoding":{"x":{"datum":-0.18,"title":null},"x2":{"datum":7.37},"y":{"datum":0.62,"axis":null,"title":null},"y2":{"datum":0.12}}},
{"data":{"values":[{}]},"mark":{"type":"text","align":"left","baseline":"middle","font":"Liberation Sans","fontSize":9,"color":"#333333"},
 "encoding":{"x":{"datum":0.24,"title":null},"y":{"datum":0.37,"axis":null,"title":null},"text":{"value":"Trend Factor 8.0"}}}
]
}
]
}
